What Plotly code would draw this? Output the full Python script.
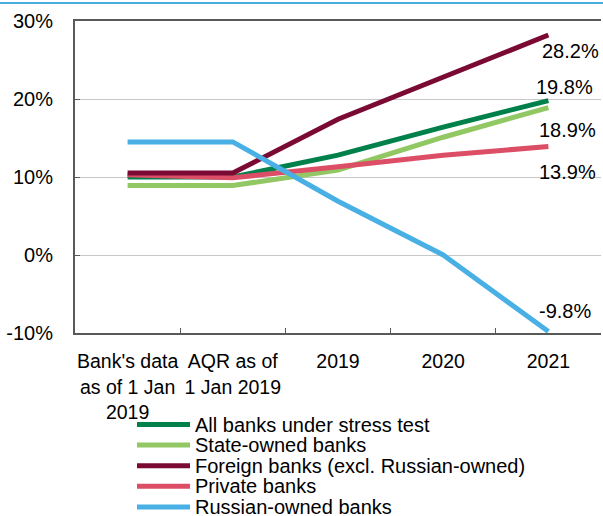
import plotly.graph_objects as go

categories = ["Bank's data<br>as of 1 Jan<br>2019", "AQR as of<br>1 Jan 2019", "2019", "2020", "2021"]
series_names = ["All banks under stress test", "State-owned banks",
                "Foreign banks (excl. Russian-owned)", "Private banks", "Russian-owned banks"]
all_banks = [10.0, 10.0, 12.8, 16.4, 19.8]
state_owned = [8.9, 8.9, 10.9, 15.1, 18.9]
foreign = [10.5, 10.5, 17.4, 22.8, 28.2]
private = [10.3, 9.9, 11.3, 12.8, 13.9]
russian = [14.5, 14.5, 6.9, 0.0, -9.8]
y_ticks = [-10, 0, 10, 20, 30]
y_tick_labels = ["-10%", "0%", "10%", "20%", "30%"]

colors = ["#00804A", "#92C864", "#7A0A33", "#DC4E66", "#48B0E4"]
series = [all_banks, state_owned, foreign, private, russian]
label_shift = [(16, 14), (19, -22), (22, -16), (19, -25), (17, 20)]

W, H = 603, 516
ML, MR, MT, MB = 75, 2, 21, 183
PW, PH = W - ML - MR, H - MT - MB


def px_x(px):
    return (px - ML) / PW


def px_y(py):
    return (H - MB - py) / PH


fig = go.Figure()
draw_order = [1, 0, 3, 2, 4]
for i in draw_order:
    fig.add_trace(go.Scatter(x=categories, y=series[i], name=series_names[i], mode="lines",
                             line=dict(color=colors[i], width=5), showlegend=False,
                             hoverinfo="skip"))

last = len(categories) - 1
for vals, (dx, dy) in zip(series, label_shift):
    fig.add_annotation(x=last, y=vals[-1], text=f"{vals[-1]:.1f}%",
                       showarrow=False, xshift=dx, yshift=dy,
                       font=dict(size=20, color="#000000"))

# legend drawn below the plot
for k, (name, col) in enumerate(zip(series_names, colors)):
    yy = px_y(424.5 + k * 20.6)
    fig.add_shape(type="line", xref="paper", yref="paper",
                  x0=px_x(137), x1=px_x(190), y0=yy, y1=yy,
                  line=dict(color=col, width=5))
    fig.add_annotation(xref="paper", yref="paper", x=px_x(193), y=yy, text=name,
                       showarrow=False, xanchor="left", yanchor="middle",
                       font=dict(size=20, color="#000000"))

fig.add_shape(type="line", xref="paper", yref="paper", x0=-0.2, x1=1.1,
              y0=px_y(3), y1=px_y(3), line=dict(color="#48ADE0", width=2))

fig.update_layout(
    width=W, height=H,
    margin=dict(l=ML, r=MR, t=MT, b=MB, autoexpand=False),
    paper_bgcolor="white", plot_bgcolor="white",
    font=dict(family="Liberation Sans, Arial, sans-serif", size=19, color="#000000"),
    showlegend=False,
)
fig.update_xaxes(type="category", showline=True, linecolor="#595959", linewidth=2,
                 mirror=True, ticks="inside", tickson="boundaries", ticklen=5,
                 tickcolor="#595959", showgrid=False, tickangle=0,
                 range=[-0.5, 4.5], ticklabelstandoff=10, tickfont=dict(size=19.5))
fig.update_yaxes(range=[-10, 30], tickvals=y_ticks, ticktext=y_tick_labels,
                 showline=True, linecolor="#595959", linewidth=2, mirror=False,
                 ticks="inside", ticklen=5, tickcolor="#595959",
                 showgrid=True, gridcolor="#C8C8C8", gridwidth=1, zeroline=False,
                 ticklabelstandoff=16, tickfont=dict(size=20))

fig.write_html("out.html", config={"displayModeBar": False},
               post_script="document.body.style.margin='0';")
